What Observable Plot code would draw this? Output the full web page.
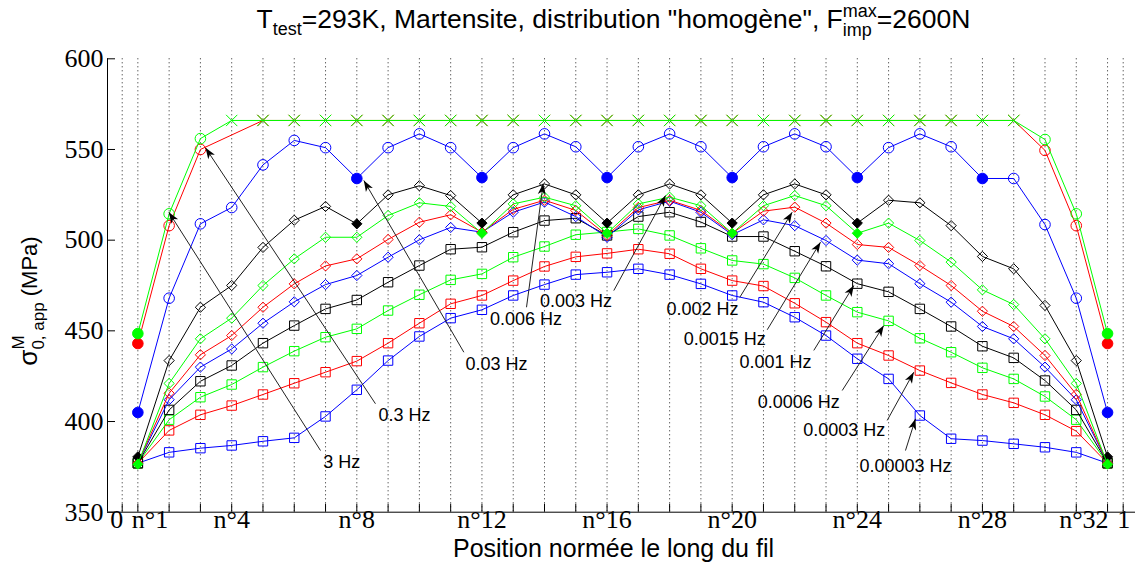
<!DOCTYPE html>
<html><head><meta charset="utf-8">
<script src="https://cdn.jsdelivr.net/npm/d3@7"></script>
<script src="https://cdn.jsdelivr.net/npm/@observablehq/plot@0.6"></script>
<style>body{margin:0;background:#fff}</style>
</head><body><div id="chart"></div>
<script>
// ---------- DATA ----------
const wires = d3.range(1, 33);               // wire numbers n°1 .. n°32
const labeledWires = [4, 8, 12, 16, 20, 24, 28];
const yTicks = [350, 400, 450, 500, 550, 600];

// sigma_0,app^M (MPa) for each wire, one array per loading frequency
const s3Hz      = [448.5,514.5,556,566,566,566,566,566,566,566,566,566,566,566,566,566,566,566,566,566,566,566,566,566,566,566,566,566,566,555.5,514.5,448.5];
const s03Hz     = [443,508,550,null,566,566,566,566,566,566,566,566,566,566,566,566,566,566,566,566,566,566,566,566,566,566,566,566,566,549.5,508,443];
const s003Hz    = [405,468,509,518,541.5,555,551,534,551,558.6,551,534.5,551,558.6,551.5,534.5,551.5,558.6,551.5,534.5,551.5,558.6,551.5,534.5,551,558.6,551.5,534,534,508.6,468,405];
const s0006Hz   = [380.5,433.6,463,475,496,511,518.6,509,525,530,524.6,509.4,525,531,525,509.4,525,531,525,509.4,525,531,525,509.4,522,520.6,508,491,484.2,464,433.6,380.5];
const s0003Hz   = [376.5,421,445.6,457,475,489.7,501.6,501.6,513.6,520.6,518.6,503.8,520,523.7,519,503.8,520,523.7,519,503.8,519,524.6,519,503.8,509.4,499.8,487.9,472.6,464.5,445.6,421,376.5];
const s0002Hz   = [377,415.6,436.8,447.4,463,475.9,485.8,489.7,500.4,509.9,514,504.4,517,522,516.4,502.6,518,522,516.4,503.8,516,518.2,509.4,497.6,496,486,475,460.8,452.4,436.4,415,377];
const s00015Hz  = [377,412,430,440,454.2,466,475.5,480.5,490.6,500.2,507,504.4,515.4,521,513,501.6,516.7,521.5,515.4,503,511.2,508,499.8,489,487,476,465.8,452.4,445.6,430,412,377];
const s0001Hz   = [377,406.4,422.2,430.9,443.2,452.9,462.1,467,476.8,486,495,496.1,504.4,510.8,512.1,502.6,513,515.4,510,502,502,493.9,485.6,476,471.5,462.1,452.4,441.5,435.1,422.6,406.4,377];
const s00006Hz  = [377,401,413.4,420.4,430,438.8,446.5,451.1,461.2,469.9,478.1,481.4,490.6,496.5,503,504.5,506.2,502.6,495.5,488.8,486.8,479.2,469.5,460.3,455.5,445.9,438.2,429.6,423.5,413.8,401,377];
const s00003Hz  = [377,395.1,403.7,408.8,414.9,421.1,427.2,433.3,443.2,454.2,464.9,469.5,477.7,485.5,490.8,492.7,495,492.5,484.2,477.7,474.7,465.2,454.8,443.2,436.4,428.1,421.3,414.9,410.3,403.7,394.7,377];
const s000003Hz = [377,383,385.3,386.8,389.1,391,402.8,417.5,433.6,446.9,457,461.6,469.5,475.5,481,482.3,484.2,481,475.9,469.5,465.8,457.5,447.4,434.6,423.5,403.3,390.5,389.5,387.7,385.8,383,377];

// wires where the value is imposed (filled markers) / saturated (x markers)
const filled3Hz = [1, 32], filled03Hz = [1, 32];
const filled003Hz = [1, 8, 12, 16, 20, 24, 28, 32];
const filled0006Hz = [1, 8, 12, 16, 20, 24, 32];
const filled0003Hz = [1, 12, 16, 20, 24, 32];
const filledEnds = [1, 32];
const saturated3Hz = d3.range(4, 30), saturated03Hz = d3.range(5, 30);

// annotation labels: text, text anchor point, arrow tail, arrow tip (position, MPa)
const annLabels = ["3 Hz","0.3 Hz","0.03 Hz","0.006 Hz","0.003 Hz","0.002 Hz","0.0015 Hz","0.001 Hz","0.0006 Hz","0.0003 Hz","0.00003 Hz"];
const annTextX  = [0.2192,0.2820,0.3739,0.4034,0.4533,0.5797,0.6020,0.6526,0.6759,0.7213,0.7825];
const annTextY  = [377.6,403.3,431.8,456.6,466.3,461.9,445.2,432.5,410.6,395.0,375.5];
const annTailX  = [0.1981,0.2530,0.3413,0.4039,0.4911,0.6170,0.6444,0.6909,0.7193,0.7642,0.7825];
const annTailY  = [384.0,409.8,438.2,463.0,472.2,468.5,450.6,439.2,417.1,400.6,384.0];
const annTipX   = [0.0466,0.0832,0.2414,0.4206,0.5428,0.6693,0.6976,0.7309,0.7608,0.7908,0.7925];
const annTipY   = [515.4,550.9,532.9,531.2,524.6,515.4,498.9,475.0,452.9,427.2,401.5];

// ---------- LAYOUT / STYLE ----------
const W = 1135, H = 577, mT = 58.3, mB = 65.3, mL = 107, mR = 0;
const frameH = H - mT - mB, frameW = W - mL - mR;
const xDom = [-0.0147, 1.0123];
const wirePos = w => (w - 0.5) / 32;
const SANS = "Liberation Sans, Arial, sans-serif";
const SERIF = "Liberation Serif, Times New Roman, serif";
const G = "#00ff00", R = "#ff0000", B = "#0000ff", K = "#000000";

const series = [
  {v: s000003Hz, c: B, sym: "square", filled: []},
  {v: s00003Hz,  c: R, sym: "square", filled: []},
  {v: s00006Hz,  c: G, sym: "square", filled: []},
  {v: s0001Hz,   c: K, sym: "square", filled: []},
  {v: s00015Hz,  c: B, sym: "diamond2", filled: filledEnds},
  {v: s0002Hz,   c: R, sym: "diamond2", filled: filledEnds},
  {v: s0006Hz,   c: K, sym: "diamond2", filled: filled0006Hz},
  {v: s0003Hz,   c: G, sym: "diamond2", filled: filled0003Hz},
  {v: s003Hz,    c: B, sym: "circle", filled: filled003Hz},
  {v: s03Hz,     c: R, sym: "circle", filled: filled03Hz, sat: saturated03Hz},
  {v: s3Hz,      c: G, sym: "circle", filled: filled3Hz, sat: saturated3Hz}
];

const marks = [];
const gridPos = [0, ...wires.map(wirePos), 1];
marks.push(Plot.ruleX(gridPos, {stroke: "#222", strokeDasharray: "1,3", strokeWidth: 1}));

for (const s of series) {
  const pts = wires.map((w, i) => ({w, x: wirePos(w), y: s.v[i]})).filter(d => d.y != null);
  const sat = s.sat || [];
  marks.push(Plot.line(pts, {x: "x", y: "y", stroke: s.c, strokeWidth: 1}));
  const open = pts.filter(d => !s.filled.includes(d.w) && !sat.includes(d.w));
  const fil = pts.filter(d => s.filled.includes(d.w));
  const sx = pts.filter(d => sat.includes(d.w));
  const r = s.sym === "circle" ? 5.3 : s.sym === "square" ? 5.3 : 4.6;
  marks.push(Plot.dot(open, {x: "x", y: "y", symbol: s.sym, r, stroke: s.c, fill: "none", strokeWidth: 1}));
  marks.push(Plot.dot(fil, {x: "x", y: "y", symbol: s.sym, r, stroke: s.c, fill: s.c, strokeWidth: 1}));
  if (sx.length) marks.push(Plot.dot(sx, {x: "x", y: "y", symbol: "times", r: 5.2, stroke: s.c, strokeWidth: 1}));
}

// axes
marks.push(Plot.ruleX([xDom[0]], {stroke: "#000", strokeWidth: 1}));
marks.push(Plot.ruleY([350], {stroke: "#000", strokeWidth: 1}));
marks.push(Plot.ruleX(gridPos, {insetTop: frameH - 8, stroke: "#000", strokeWidth: 1}));
marks.push(Plot.ruleY(yTicks, {insetRight: frameW - 8, stroke: "#000", strokeWidth: 1}));
marks.push(Plot.text(yTicks, {y: d => d, text: d => String(d), frameAnchor: "left", textAnchor: "end", dx: -4, fontSize: 26, fontFamily: SERIF, fill: "#000"}));

const midLabels = labeledWires.map(w => ({x: wirePos(w), t: "n°" + w}));
marks.push(Plot.text(midLabels, {x: "x", text: "t", frameAnchor: "bottom", dy: 16, fontSize: 26, fontFamily: SERIF, fill: "#000"}));
marks.push(Plot.text([{x: 0, t: "0"}, {x: wirePos(32), t: "n°32"}], {x: "x", text: "t", frameAnchor: "bottom", dy: 16, dx: 1, textAnchor: "end", fontSize: 26, fontFamily: SERIF, fill: "#000"}));
marks.push(Plot.text([{x: wirePos(1), t: "n°1"}, {x: 1, t: "1"}], {x: "x", text: "t", frameAnchor: "bottom", dy: 16, dx: -6, textAnchor: "start", fontSize: 26, fontFamily: SERIF, fill: "#000"}));
marks.push(Plot.text(["Position normée le long du fil"], {text: d => d, frameAnchor: "bottom", dy: 45, dx: -8, fontSize: 25, fontFamily: SANS, fill: "#000"}));

// annotations
const ann = annLabels.map((t, i) => ({t, tx: annTextX[i], ty: annTextY[i], x1: annTailX[i], y1: annTailY[i], x2: annTipX[i], y2: annTipY[i]}));
marks.push(Plot.link(ann, {x1: "x1", y1: "y1", x2: "x2", y2: "y2", stroke: "#222", strokeWidth: 1}));
marks.push(Plot.text(ann, {x: "tx", y: "ty", text: "t", fontSize: 18, fontFamily: SANS, fill: "#000"}));

const chart = Plot.plot({
  width: W, height: H, marginTop: mT, marginBottom: mB, marginLeft: mL, marginRight: mR,
  x: {domain: xDom, axis: null},
  y: {domain: [350, 600], axis: null},
  style: {background: "#fff", overflow: "visible"},
  marks
});
document.getElementById("chart").appendChild(chart);

// arrowheads on the annotation links
const svg = d3.select(chart);
const defs = svg.append("defs");
defs.append("marker").attr("id", "ah").attr("viewBox", "-12 -6 14 12").attr("refX", 0).attr("refY", 0)
  .attr("markerWidth", 14).attr("markerHeight", 12).attr("markerUnits", "userSpaceOnUse").attr("orient", "auto")
  .append("path").attr("d", "M0,0L-11,-4L-8,0L-11,4Z").attr("fill", "#000");
svg.selectAll('g[aria-label="link"] path').attr("marker-end", "url(#ah)");

// rich text helper (sub / superscripts)
function richText(g, segs, family) {
  let cx = 0, pendingStack = null;
  for (const s of segs) {
    const t = g.append("text").attr("x", cx).attr("y", s.shift || 0).attr("text-anchor", "start")
      .attr("font-size", s.size).attr("font-family", family).attr("fill", "#000").text(s.t);
    const w = t.node().getComputedTextLength();
    if (s.stack) { pendingStack = w; }
    else if (pendingStack != null) { cx += Math.max(pendingStack, w); pendingStack = null; }
    else cx += w;
  }
  return cx;
}
// title
const tg = svg.append("g").attr("text-anchor", "start");
const tw = richText(tg, [
  {t: "T", size: 26.5}, {t: "test", size: 18, shift: 7},
  {t: "=293K, Martensite, distribution \"homogène\", F", size: 26.5},
  {t: "max", size: 18, shift: -11, stack: true}, {t: "imp", size: 18, shift: 8},
  {t: "=2600N", size: 26.5}
], SANS);
tg.attr("transform", `translate(${613.5 - tw / 2},28)`);
// y label
const yg = svg.append("g").attr("text-anchor", "start");
const yw = richText(yg, [
  {t: "σ", size: 26}, {t: "M", size: 17, shift: -13, stack: true}, {t: "0, app", size: 17, shift: 7},
  {t: " (MPa)", size: 22}
], SANS);
yg.attr("transform", `translate(37,${301 + yw / 2}) rotate(-90)`);
</script></body></html>
